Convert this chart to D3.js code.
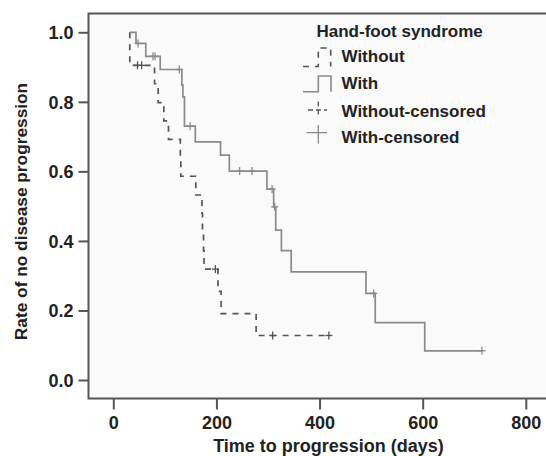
<!DOCTYPE html>
<html>
<head>
<meta charset="utf-8">
<script src="https://cdn.jsdelivr.net/npm/d3@7"></script>
<style>
  html, body { margin: 0; padding: 0; background: #ffffff; }
  svg { display: block; }
  text { font-family: "Liberation Sans", Arial, Helvetica, sans-serif; font-weight: bold; fill: #222; }
</style>
</head>
<body>
<svg id="chart" width="546" height="456"></svg>
<script>
// ---- data ----
const xTicks = [0, 200, 400, 600, 800];
const yTicks = [0.0, 0.2, 0.4, 0.6, 0.8, 1.0];
const xTitle = "Time to progression (days)";
const yTitle = "Rate of no disease progression";
const legendTitle = "Hand-foot syndrome";
const legendLabels = ["Without", "With", "Without-censored", "With-censored"];

// "With" group step curve (time, survival from that time on)
const withTimes = [32, 44, 63, 91, 133, 135, 138, 159, 208, 225, 298, 311, 315, 326, 345, 490, 508, 604, 715];
const withSurv  = [1.0, 0.968, 0.931, 0.893, 0.848, 0.814, 0.730, 0.685, 0.647, 0.601, 0.549, 0.498, 0.431, 0.372, 0.311, 0.249, 0.165, 0.084, 0.084];
const withCensored = [48, 77, 81, 128, 149, 245, 269, 308, 313, 505, 715];

// "Without" group step curve
const withoutTimes = [32, 32, 80, 87, 98, 107, 130, 131, 160, 172, 173, 175, 176, 203, 209, 277, 418];
const withoutSurv  = [1.0, 0.905, 0.852, 0.798, 0.745, 0.692, 0.639, 0.586, 0.532, 0.479, 0.426, 0.372, 0.319, 0.255, 0.191, 0.128, 0.128];
const withoutCensored = [47, 55, 198, 309, 418];

// ---- layout ----
const svg = d3.select("#chart");
const frame = { left: 88.5, top: 13.5, right: 550, bottom: 398.5 };
const x = d3.scaleLinear().domain([0, 800]).range([113.3, 525.8]);
const y = d3.scaleLinear().domain([0, 1]).range([380, 32.3]);

const withColor = "#8a8a8a";
const withoutColor = "#555";
const axisColor = "#555";
const fontStack = '"Liberation Sans", Arial, sans-serif';

// plot background
svg.append("rect")
  .attr("x", frame.left).attr("y", frame.top)
  .attr("width", frame.right - frame.left).attr("height", frame.bottom - frame.top)
  .attr("fill", "#fafafa")
  .attr("stroke", axisColor).attr("stroke-width", 2);

// axes
const xAxis = d3.axisBottom(x).tickValues(xTicks).tickFormat(d3.format("d")).tickSize(11).tickSizeOuter(0);
const gx = svg.append("g").attr("transform", `translate(0,${frame.bottom})`).call(xAxis);
gx.select(".domain").remove();
gx.selectAll(".tick line").attr("stroke", axisColor).attr("stroke-width", 2);
gx.selectAll(".tick text").attr("font-size", 18).attr("y", 17.5).attr("dy", "0.71em")
  .style("font-family", fontStack).style("font-weight", "bold").attr("fill", "#222");

const yAxis = d3.axisLeft(y).tickValues(yTicks).tickFormat(d3.format(".1f")).tickSize(10).tickSizeOuter(0);
const gy = svg.append("g").attr("transform", `translate(${frame.left},0)`).call(yAxis);
gy.select(".domain").remove();
gy.selectAll(".tick line").attr("stroke", axisColor).attr("stroke-width", 2);
gy.selectAll(".tick text").attr("font-size", 18).attr("x", -15).attr("dy", "0.36em")
  .style("font-family", fontStack).style("font-weight", "bold").attr("fill", "#222");

// axis titles
svg.append("text").attr("x", 328.5).attr("y", 452).attr("text-anchor", "middle")
  .attr("font-size", 18).text(xTitle);
svg.append("text").attr("transform", "translate(27,211.5) rotate(-90)").attr("text-anchor", "middle")
  .attr("font-size", 17.3).text(yTitle);

// curves
const line = d3.line().x(d => x(d[0])).y(d => y(d[1])).curve(d3.curveStepAfter);
const withData = withTimes.map((t, i) => [t, withSurv[i]]);
const withoutData = withoutTimes.map((t, i) => [t, withoutSurv[i]]);

function levelAt(times, surv, t) {
  let v = surv[0];
  for (let i = 0; i < times.length; i++) { if (times[i] <= t) v = surv[i]; }
  return v;
}

svg.append("path").attr("d", line(withoutData)).attr("fill", "none")
  .attr("stroke", withoutColor).attr("stroke-width", 1.7).attr("stroke-dasharray", "6,6");
svg.append("path").attr("d", line(withData)).attr("fill", "none")
  .attr("stroke", withColor).attr("stroke-width", 1.7);

function drawCensor(times, stimes, ssurv, color) {
  const g = svg.append("g").attr("stroke", color).attr("stroke-width", 1.3);
  times.forEach(t => {
    const cx = x(t), cy = y(levelAt(stimes, ssurv, t));
    g.append("line").attr("x1", cx).attr("x2", cx).attr("y1", cy - 4).attr("y2", cy + 4);
    g.append("line").attr("x1", cx - 3.5).attr("x2", cx + 3.5).attr("y1", cy).attr("y2", cy);
  });
}
drawCensor(withoutCensored, withoutTimes, withoutSurv, withoutColor);
drawCensor(withCensored, withTimes, withSurv, withColor);

// legend
const lg = svg.append("g");
lg.append("text").attr("x", 316.5).attr("y", 36.5).attr("font-size", 17).text(legendTitle);
const rowBase = [62, 89, 116.5, 143];
const textX = 341.5;
legendLabels.forEach((lab, i) => {
  lg.append("text").attr("x", textX).attr("y", rowBase[i]).attr("font-size", 17).text(lab);
});
// legend symbols
lg.append("path").attr("d", "M303,66.5H318.3V48H330.7V66.5").attr("fill", "none")
  .attr("stroke", withoutColor).attr("stroke-width", 1.6).attr("stroke-dasharray", "6,6");
lg.append("path").attr("d", "M303,91.7H318.3V76H331V91.7").attr("fill", "none")
  .attr("stroke", withColor).attr("stroke-width", 1.6);
lg.append("path").attr("d", "M308,110H327M318.3,101.5V117").attr("fill", "none")
  .attr("stroke", withoutColor).attr("stroke-width", 1.3).attr("stroke-dasharray", "5,3");
lg.append("path").attr("d", "M306.5,132.7H327M318.3,125V143.5").attr("fill", "none")
  .attr("stroke", withColor).attr("stroke-width", 1.3);
</script>
</body>
</html>
